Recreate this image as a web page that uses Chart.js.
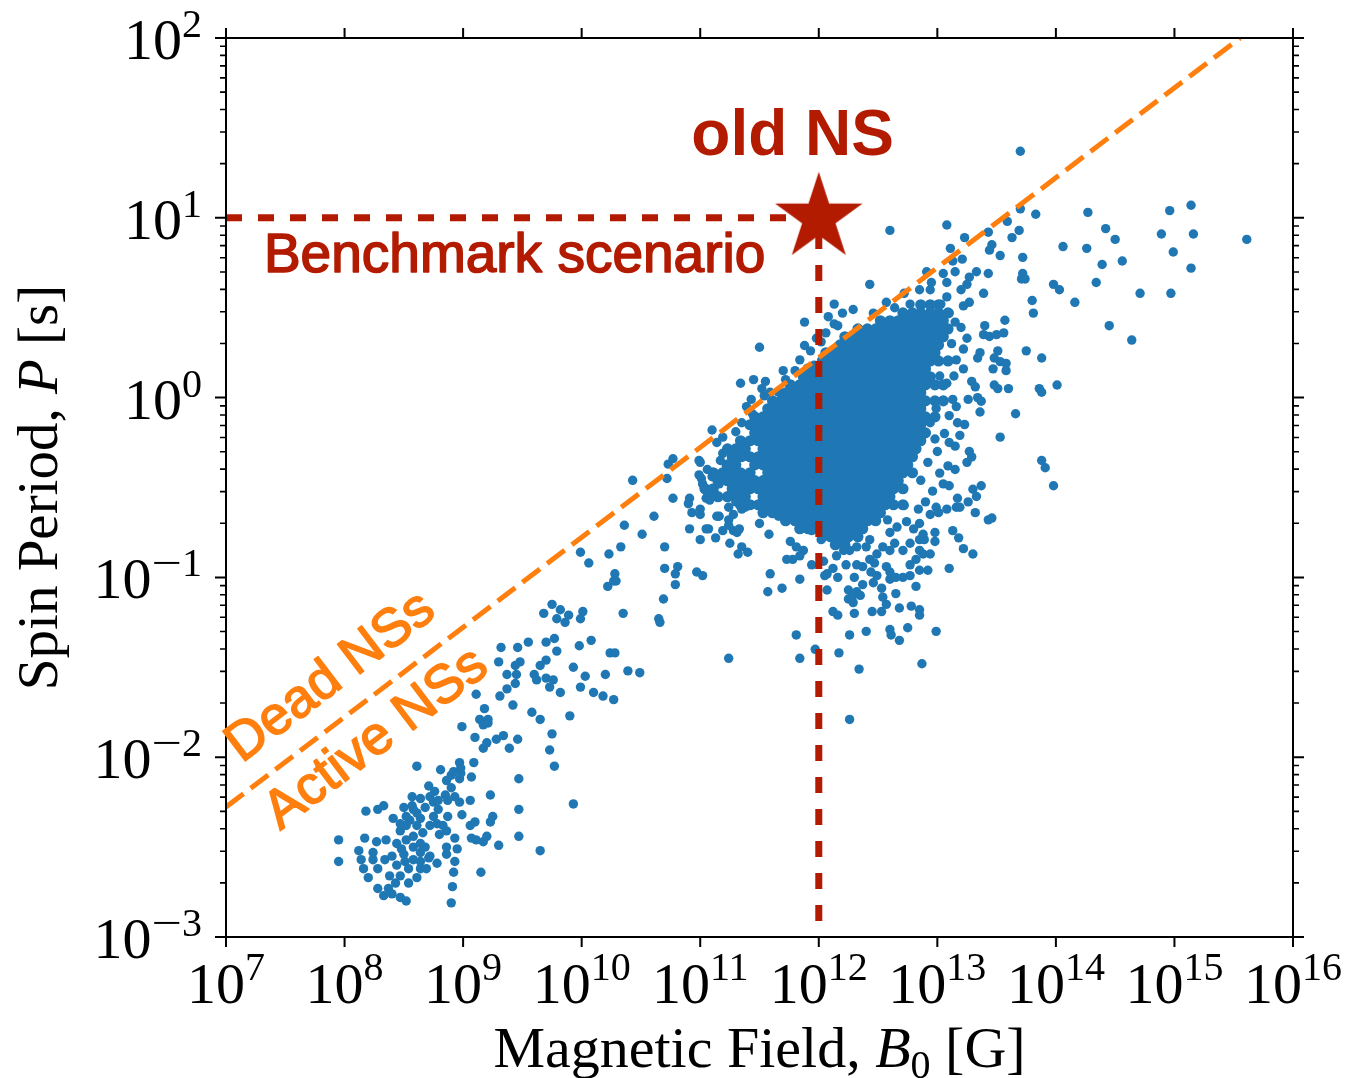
<!DOCTYPE html>
<html>
<head>
<meta charset="utf-8">
<title>Spin period vs magnetic field</title>
<script src="https://cdn.jsdelivr.net/npm/chart.js@4.4.1/dist/chart.umd.min.js"></script>
<style>
  html, body { margin: 0; padding: 0; background: #fff; }
  #wrap { width: 1346px; height: 1078px; }
</style>
</head>
<body>
<div id="wrap"><canvas id="chart" width="1346" height="1078"></canvas></div>
<script>
// all values are [log10 B0 in G, log10 P in s]

// recycled / millisecond pulsars, bottom left
const recycledPulsars = [
  [8.61,-2.05],[8.81,-2.07],[8.97,-2.03],[9.09,-2.03],[8.90,-2.10],[8.97,-2.12],[8.86,-2.13],[9.07,-2.11],[9.47,-2.12],
  [8.71,-2.16],[8.76,-2.19],[8.90,-2.17],[8.85,-2.21],[8.93,-2.22],[9.23,-2.21],[9.06,-2.24],[8.97,-2.25],[8.87,-2.24],
  [8.57,-2.22],[8.64,-2.23],[8.75,-2.25],[8.33,-2.27],[8.28,-2.29],[8.18,-2.30],[8.50,-2.28],[8.58,-2.29],[8.68,-2.28],
  [8.79,-2.29],[8.99,-2.32],[8.87,-2.33],[8.41,-2.34],[8.52,-2.33],[8.64,-2.34],[8.75,-2.33],[9.47,-2.29],[9.25,-2.33],
  [9.23,-2.36],[9.10,-2.36],[9.06,-2.38],[9.11,-2.46],[9.07,-2.45],[9.20,-2.44],[9.17,-2.47],[9.30,-2.49],[9.47,-2.44],
  [8.93,-2.45],[8.86,-2.41],[8.80,-2.43],[8.86,-2.50],[8.95,-2.51],[8.86,-2.54],[8.93,-2.58],[8.78,-2.59],[8.71,-2.56],
  [8.64,-2.53],[8.68,-2.50],[8.58,-2.44],[8.52,-2.38],[8.47,-2.41],[8.52,-2.46],[8.44,-2.48],[8.35,-2.46],[8.27,-2.47],
  [8.17,-2.45],[7.95,-2.46],[7.95,-2.58],[8.12,-2.52],[8.14,-2.57],[8.24,-2.53],[8.24,-2.57],[8.34,-2.57],[8.40,-2.55],
  [8.50,-2.54],[8.58,-2.57],[8.54,-2.62],[8.64,-2.62],[8.69,-2.62],[8.16,-2.62],[8.20,-2.67],[8.28,-2.62],[8.38,-2.66],
  [8.47,-2.66],[8.43,-2.70],[8.54,-2.70],[8.61,-2.67],[8.92,-2.64],[9.15,-2.64],[8.28,-2.73],[8.37,-2.73],[8.33,-2.77],
  [8.40,-2.76],[8.47,-2.78],[8.52,-2.80],[8.91,-2.72],[8.90,-2.81],
  [8.55,-2.35],[8.61,-2.38],[8.66,-2.42],[8.58,-2.50],[8.64,-2.48],[8.72,-2.38],[8.78,-2.37],[8.83,-2.38],[8.48,-2.51],
  [8.72,-2.55],[8.57,-2.27],[8.61,-2.31],[8.51,-2.58],[8.44,-2.60],[8.64,-2.58],[8.47,-2.37],[8.79,-2.24],[8.72,-2.22],
  [9.93,-2.26],[9.65,-2.52],
  [9.11,-1.65],[9.18,-1.73],[9.14,-1.79],[9.21,-1.79],[8.99,-1.83],[9.10,-1.89],
  [9.17,-1.95],[9.20,-1.92],[9.28,-1.90],[8.98,-2.09],[8.98,-2.06],[8.92,-2.08]
];

// pulsars between the two populations
const bridgePulsars = [
  [10.22,-1.05],[10.27,-1.02],[9.75,-1.15],[9.82,-1.18],[9.89,-1.21],[10.01,-1.19],[9.99,-1.23],[9.68,-1.20],[9.79,-1.23],
  [9.86,-1.25],[10.35,-1.20],[10.65,-1.23],[10.08,-1.35],[9.98,-1.38],[9.77,-1.34],[9.70,-1.36],[9.79,-1.41],[9.55,-1.36],
  [9.46,-1.39],[9.32,-1.39],[10.24,-1.42],[10.28,-1.42],[9.70,-1.46],[9.65,-1.49],[9.48,-1.47],[9.44,-1.49],[9.30,-1.47],
  [9.93,-1.50],[10.03,-1.55],[10.20,-1.54],[10.39,-1.52],[10.49,-1.53],[9.37,-1.54],[9.45,-1.54],[9.60,-1.54],[9.62,-1.57],
  [9.70,-1.56],[9.76,-1.57],[9.73,-1.61],[9.44,-1.59],[9.37,-1.62],[9.31,-1.66],[9.99,-1.61],[10.10,-1.64],[10.18,-1.66],
  [10.27,-1.68],[9.82,-1.64],[9.42,-1.71],[9.58,-1.75],[9.65,-1.79],[9.90,-1.77],[9.17,-1.82],[9.21,-1.81],
  [9.34,-1.88],[9.39,-1.95],[9.46,-1.90],[9.75,-1.87],[9.73,-1.96],[9.77,-2.05],
  [10.43,-0.46],[10.73,-0.37],[10.77,-0.34],[10.72,-0.45],[10.77,-0.56],[10.99,-0.35],[10.61,-0.66],[10.36,-0.71],
  [10.51,-0.76],[10.33,-0.83],[10.23,-0.87],[9.99,-0.86],[10.06,-0.92],[10.70,-0.83],[10.70,-0.95],[10.79,-0.98],
  [10.81,-0.94],[10.79,-1.04],[10.97,-0.97],[11.02,-0.99],[10.28,-0.98],[10.29,-1.02],[10.69,-1.12],[10.66,-1.25]
];

// dense part of the normal pulsars, one row per period: [log10 P, [log10 B0, ...]]
const normalCoreRows = [
  [0.516, [12.86,12.94,13.01]],
  [0.471, [12.71,12.79,12.86,12.94,13.01,13.09]],
  [0.427, [12.52,12.60,12.67,12.75,12.82,12.90,12.98,13.05]],
  [0.382, [12.33,12.41,12.48,12.56,12.63,12.71,12.79,12.86,12.94,13.01,13.09]],
  [0.338, [12.22,12.29,12.37,12.44,12.52,12.60,12.67,12.75,12.82,12.90,12.98,13.05]],
  [0.293, [12.18,12.25,12.33,12.41,12.48,12.56,12.63,12.71,12.79,12.86,12.94,13.01]],
  [0.249, [12.06,12.14,12.22,12.29,12.37,12.44,12.52,12.60,12.67,12.75,12.82,12.90,12.98]],
  [0.204, [12.03,12.10,12.18,12.25,12.33,12.41,12.48,12.56,12.63,12.71,12.79,12.86,12.94,13.01,13.09]],
  [0.160, [11.91,11.99,12.06,12.14,12.22,12.29,12.37,12.44,12.52,12.60,12.67,12.75,12.82,12.90]],
  [0.116, [11.87,11.95,12.03,12.10,12.18,12.25,12.33,12.41,12.48,12.56,12.63,12.71,12.79,12.86,12.94]],
  [0.071, [11.76,11.84,11.91,11.99,12.06,12.14,12.22,12.29,12.37,12.44,12.52,12.60,12.67,12.75,12.82,12.90,12.98,13.05]],
  [0.027, [11.72,11.80,11.87,11.95,12.03,12.10,12.18,12.25,12.33,12.41,12.48,12.56,12.63,12.71,12.79,12.86]],
  [-0.018, [11.61,11.68,11.76,11.84,11.91,11.99,12.06,12.14,12.22,12.29,12.37,12.44,12.52,12.60,12.67,12.75,12.82,12.90,12.98,13.05]],
  [-0.062, [11.57,11.65,11.72,11.80,11.87,11.95,12.03,12.10,12.18,12.25,12.33,12.41,12.48,12.56,12.63,12.71,12.79,12.86]],
  [-0.107, [11.46,11.53,11.61,11.68,11.76,11.84,11.91,11.99,12.06,12.14,12.22,12.29,12.37,12.44,12.52,12.60,12.67,12.75,12.82,12.90,12.98]],
  [-0.151, [11.42,11.49,11.57,11.65,11.72,11.80,11.87,11.95,12.03,12.10,12.18,12.25,12.33,12.41,12.48,12.56,12.63,12.71,12.79,12.86]],
  [-0.196, [11.46,11.53,11.61,11.68,11.76,11.84,11.91,11.99,12.06,12.14,12.22,12.29,12.37,12.44,12.52,12.60,12.67,12.75,12.82,12.90]],
  [-0.240, [11.34,11.42,11.49,11.57,11.65,11.72,11.80,11.87,11.95,12.03,12.10,12.18,12.25,12.33,12.41,12.48,12.56,12.63,12.71,12.79,12.86]],
  [-0.285, [11.23,11.30,11.38,11.53,11.61,11.68,11.76,11.84,11.91,11.99,12.06,12.14,12.22,12.29,12.37,12.44,12.52,12.60,12.67,12.75,12.82]],
  [-0.329, [11.27,11.34,11.42,11.49,11.57,11.65,11.72,11.80,11.87,11.95,12.03,12.10,12.18,12.25,12.33,12.41,12.48,12.56,12.63,12.71,12.79]],
  [-0.374, [11.23,11.30,11.46,11.53,11.61,11.68,11.76,11.84,11.91,11.99,12.06,12.14,12.22,12.29,12.37,12.44,12.52,12.60,12.67,12.75]],
  [-0.418, [11.11,11.19,11.27,11.34,11.42,11.57,11.65,11.72,11.80,11.87,11.95,12.03,12.10,12.18,12.25,12.33,12.41,12.48,12.56,12.63,12.71,12.79]],
  [-0.462, [11.15,11.23,11.30,11.38,11.46,11.53,11.61,11.68,11.76,11.84,11.91,11.99,12.06,12.14,12.22,12.29,12.37,12.44,12.52,12.60,12.67]],
  [-0.507, [11.04,11.11,11.27,11.34,11.42,11.49,11.57,11.65,11.72,11.80,11.87,11.95,12.03,12.10,12.18,12.25,12.33,12.41,12.48,12.56,12.63,12.71]],
  [-0.551, [11.15,11.23,11.30,11.38,11.53,11.61,11.68,11.76,11.84,11.91,11.99,12.06,12.14,12.22,12.29,12.37,12.44,12.52,12.60]],
  [-0.596, [11.34,11.42,11.49,11.57,11.65,11.72,11.80,11.87,11.95,12.03,12.10,12.18,12.25,12.33,12.41,12.48,12.56,12.63,12.71]],
  [-0.640, [11.53,11.61,11.68,11.76,11.84,11.91,11.99,12.06,12.14,12.22,12.29,12.37,12.44,12.52]],
  [-0.685, [11.72,11.80,11.87,11.95,12.03,12.10,12.18,12.25,12.33,12.41,12.48]],
  [-0.729, [11.84,11.91,11.99,12.06,12.14,12.22,12.29,12.37]],
  [-0.774, [12.03,12.10,12.18,12.25,12.33]],
  [-0.818, [12.14,12.22]]
];

// normal pulsars around the dense part
const normalHalo = [
  [10.91,-0.56],[10.90,-0.59],[10.93,-0.64],[11.00,-0.62],[11.05,-0.56],[11.01,-0.45],[11.02,-0.48],[10.99,-0.43],
  [10.91,-0.73],[11.00,-0.79],[11.07,-0.73],[11.13,-0.78],[11.19,-0.74],[11.16,-0.66],[11.24,-0.68],[11.28,-0.65],
  [11.35,-0.62],[11.25,-0.81],[11.32,-0.87],[11.35,-0.83],[11.40,-0.86],[11.28,-0.74],[11.31,-0.75],[11.24,-0.61],
  [11.38,-0.61],[11.40,-0.59],[11.14,-0.66],[11.08,-0.57],[11.11,-0.53],[11.10,-0.18],[11.14,-0.25],[11.19,-0.31],
  [11.17,-0.35],[11.22,-0.38],[11.25,-0.42],[11.39,-0.05],[11.00,-0.65],[11.05,-0.73],[11.24,-0.71],[11.33,-0.73],
  [11.04,-0.51],[11.06,-0.55],[11.13,-0.55],[11.30,-0.19],[11.35,-0.14],[11.44,-0.09],[11.54,0.01],[11.63,-0.03],
  [11.72,0.10],[11.80,0.15],[11.84,0.21],[11.93,0.26],[11.98,0.33],[12.06,0.36],[12.08,0.45],[12.20,0.47],[12.29,0.49],
  [12.13,0.52],[11.88,0.42],[12.13,0.41],[12.16,0.40],[11.88,0.29],[12.02,0.31],[11.50,0.28],[11.70,0.15],[12.04,0.21],
  [11.34,0.08],[11.45,0.10],[11.55,0.09],[11.52,0.05],[11.59,0.03],[11.66,0.03],[11.43,-0.01],[11.00,-0.36],[11.19,-0.22],
  [11.59,-0.98],[11.57,-1.08],[11.69,-1.06],[11.84,-1.01],[11.24,-1.45],[11.81,-1.32],[11.84,-1.45],[11.97,-1.40],
  [12.17,-1.42],[12.26,-1.32],[12.34,-1.51],[12.40,-1.30],[12.60,-1.29],[12.61,-1.32],[12.68,-1.35],[12.75,-1.28],
  [12.87,-1.48],[12.99,-1.30],[12.26,-1.79],[12.12,-1.19],[12.16,-1.21],[12.30,-1.20],[12.25,-1.12],[12.29,-1.14],
  [12.28,-1.11],[12.45,-1.19],[12.53,-1.19],[12.57,-1.15],[12.68,-1.17],[12.78,-1.16],[12.85,-1.18],[12.85,-1.21],
  [12.25,-1.07],[12.32,-1.08],[12.35,-1.10],[12.37,-1.04],[12.46,-1.03],[12.53,-1.06],[12.54,-1.11],[12.65,-1.09],
  [12.82,-1.05],[12.07,-1.07],[12.16,-1.00],[12.30,-1.00],[12.07,-0.98],[12.12,-0.95],[12.23,-0.93],[12.37,-0.94],
  [12.44,-0.97],[12.49,-0.99],[12.60,-1.01],[12.65,-1.00],[12.71,-1.00],[12.77,-0.99],[12.85,-0.96],[12.92,-0.96],
  [13.10,-0.95],[12.57,-0.94],[12.60,-0.97],[12.77,-0.93],[12.82,-0.90],[12.88,-0.87],[12.94,-0.87],[12.85,-0.85],
  [12.71,-0.85],[12.77,-0.81],[12.85,-0.79],[12.89,-0.79],[12.98,-0.80],[13.13,-0.74],[13.18,-0.78],[13.22,-0.84],
  [13.30,-0.87],[13.32,-0.64],[13.43,-0.68],[12.98,-0.75],[12.88,-0.76],[12.85,-0.70],[12.99,-0.61],[13.08,-0.62],
  [13.16,-0.61],[11.76,-0.80],[11.81,-0.83],[11.87,-0.85],[11.84,-0.88],[11.78,-0.90],[11.73,-0.90],
  [11.94,-0.93],[12.04,-0.91],[12.05,-0.99],[12.15,-0.88],[12.21,-0.85],[12.26,-0.85],[12.32,-0.83],[12.43,-0.79],
  [12.49,-0.87],[12.54,-0.83],[12.60,-0.85],[12.64,-0.81],[12.43,-0.90],[12.47,-0.92],[12.32,-0.93],
  [12.94,-0.65],[13.01,-0.64],[12.74,-0.69],[12.80,-0.73],[12.66,-0.72],[12.60,-0.75],
  [12.43,0.63],[12.57,0.53],[12.77,0.52],[12.85,0.60],[12.94,0.60],[12.95,0.64],[12.91,0.70],[13.05,0.69],[13.08,0.64],
  [13.15,0.70],[13.27,0.67],[13.33,0.70],[13.43,0.69],[13.39,0.58],[13.20,0.60],[13.25,0.63],[13.27,0.53],[13.22,0.51],
  [13.08,0.56],[13.03,0.52],[13.10,0.47],[13.40,0.40],[13.39,0.35],[13.44,0.34],[13.50,0.35],[13.56,0.36],[13.57,0.43],
  [13.25,0.33],[13.22,0.27],[13.36,0.25],[13.34,0.22],[13.51,0.26],[13.48,0.22],[13.53,0.20],[13.58,0.19],[13.47,0.16],
  [13.58,0.15],[13.16,0.21],[13.22,0.16],[13.29,0.09],[13.32,0.06],[13.48,0.07],[13.51,0.05],[13.26,-0.01],[13.34,0.00],
  [13.37,-0.02],[13.36,-0.08],[13.13,-0.01],[13.16,-0.05],[13.17,-0.14],[13.23,-0.15],[13.19,-0.21],[13.10,-0.25],
  [13.15,-0.27],[13.53,-0.22],[13.27,-0.30],[13.29,-0.33],[13.25,-0.36],[13.09,-0.38],[13.15,-0.40],[13.02,-0.42],
  [13.05,-0.48],[13.10,-0.49],[13.37,-0.49],[13.30,-0.51],[13.33,-0.55],[13.26,-0.58],[13.17,-0.56],[13.19,-0.61],
  [13.46,-0.67],[13.12,0.30],[13.20,0.39],[13.14,0.12],[13.08,0.08],[13.10,-0.10],[13.06,-0.20],[13.00,-0.30],
  [12.96,-0.52],[12.90,-0.58],[12.84,-0.62],[11.10,-0.44],[11.16,-0.48],[11.30,-0.58],[11.50,-0.70],[11.58,-0.76],
  [13.02,0.12],[12.99,-0.06],[12.94,-0.14],[12.98,-0.23],[12.92,-0.36],[12.86,-0.46],[13.15,0.42],[12.72,0.58],
  [12.46,0.47],[12.64,0.50],[11.96,0.18],[11.84,0.04],[11.68,-0.06],[11.36,-0.33],[11.06,-0.40],[11.34,-0.50],
  [12.02,-0.79],[12.40,-0.83],[11.66,-0.66],[11.94,-0.74],[12.58,-0.68],[12.72,-0.60]
];

// high-field pulsars and magnetars, right side
const highFieldPulsars = [
  [13.70,1.37],[13.08,0.96],[13.23,0.89],[13.43,0.92],[13.59,0.98],[13.70,1.05],[13.83,1.02],[13.69,0.93],[13.63,0.89],
  [13.46,0.85],[13.44,0.82],[13.53,0.79],[13.11,0.83],[13.13,0.76],[13.21,0.77],[13.72,0.78],[13.72,0.69],[13.71,0.66],
  [13.74,0.66],[13.80,0.54],[13.81,0.47],[14.06,0.84],[13.98,0.63],[14.03,0.60],[14.16,0.53],[14.26,0.83],[14.27,1.03],
  [14.34,0.64],[14.39,0.74],[14.42,0.94],[14.50,0.88],[14.56,0.76],[14.45,0.40],[14.64,0.32],[14.71,0.58],[14.89,0.91],
  [14.96,1.04],[14.99,0.81],[14.97,0.58],[15.14,1.07],[15.16,0.91],[15.14,0.72],[15.61,0.88],[13.75,0.26],[13.88,0.22],
  [14.01,0.07],[13.86,0.05],[13.88,0.03],[13.60,0.05],[13.66,-0.09],[13.88,-0.35],[13.91,-0.39],[13.98,-0.49],[12.60,0.93]
];

// death line, P proportional to sqrt(B0)
const deathLineLogB = [7, 15.554];
const deathLineLogP = [-2.277, 2.0];

// benchmark old neutron star
const benchmarkLogB = 12;
const benchmarkLogP = 1;

const xTickExps = [7, 8, 9, 10, 11, 12, 13, 14, 15, 16];
const yTickExps = [-3, -2, -1, 0, 1, 2];
const minorSteps = [2, 3, 4, 5, 6, 7, 8, 9];

const RED = '#b31b00';
const ORANGE = '#ff7f0e';
const BLUE = '#1f77b4';
const SERIF = '"Liberation Serif", "DejaVu Serif", serif';
const SANS = '"Liberation Sans", Arial, sans-serif';

const toPoint = ([b, p]) => ({ x: 10 ** b, y: 10 ** p });
const corePoints = normalCoreRows.flatMap(([p, row]) => row.map(b => [b, p])).map(toPoint);
const pulsars = [...recycledPulsars, ...bridgePulsars, ...normalHalo, ...highFieldPulsars].map(toPoint);
const deathLine = deathLineLogB.map((b, i) => toPoint([b, deathLineLogP[i]]));
const benchmark = toPoint([benchmarkLogB, benchmarkLogP]);

// filled five-pointed star used as the marker of the benchmark point
function makeStar(R) {
  const c = document.createElement('canvas');
  c.width = c.height = Math.ceil(2 * R + 4);
  const g = c.getContext('2d');
  const cx = c.width / 2, cy = c.height / 2, r = R * 0.382;
  g.beginPath();
  for (let i = 0; i < 10; i++) {
    const rad = i % 2 ? r : R;
    const a = -Math.PI / 2 + i * Math.PI / 5;
    g.lineTo(cx + rad * Math.cos(a), cy + rad * Math.sin(a));
  }
  g.closePath();
  g.fillStyle = RED;
  g.fill();
  return c;
}

// draws a run of text pieces with their own fonts and baseline shifts
function drawRich(ctx, parts, x, y, align) {
  let total = 0;
  parts.forEach(p => { ctx.font = p.font; p.w = ctx.measureText(p.text).width * (p.sx || 1); total += p.w; });
  let cx = align === 'center' ? x - total / 2 : align === 'right' ? x - total : x;
  ctx.textAlign = 'left';
  parts.forEach(p => {
    ctx.font = p.font;
    ctx.save();
    ctx.translate(cx, y + (p.dy || 0));
    ctx.scale(p.sx || 1, 1);
    ctx.fillText(p.text, 0, 0);
    ctx.restore();
    cx += p.w;
  });
}

function powerParts(exp, dy) {
  const parts = [{ text: '10', font: '58px ' + SERIF }];
  if (exp < 0) parts.push({ text: '\u2212', font: '40px ' + SERIF, dy: dy, sx: 1.35 });
  parts.push({ text: String(Math.abs(exp)), font: '40px ' + SERIF, dy: dy });
  return parts;
}

// sans labels in a slightly heavier weight than regular
function heavyText(ctx, text, x, y, weight) {
  ctx.fillText(text, x, y);
  ctx.lineWidth = weight;
  ctx.strokeStyle = ctx.fillStyle;
  ctx.lineJoin = 'round';
  ctx.strokeText(text, x, y);
}

const axesPlugin = {
  id: 'axesFrame',
  afterDraw(chart) {
    const { ctx, chartArea: a, scales: { x, y } } = chart;
    ctx.save();
    ctx.strokeStyle = '#000';
    ctx.fillStyle = '#000';
    ctx.lineWidth = 2;
    ctx.strokeRect(a.left, a.top, a.right - a.left, a.bottom - a.top);

    // major ticks, pointing outwards
    ctx.beginPath();
    xTickExps.forEach(e => {
      const px = x.getPixelForValue(10 ** e);
      ctx.moveTo(px, a.bottom); ctx.lineTo(px, a.bottom + 10);
      ctx.moveTo(px, a.top); ctx.lineTo(px, a.top - 10);
    });
    yTickExps.forEach(e => {
      const py = y.getPixelForValue(10 ** e);
      ctx.moveTo(a.left - 11, py); ctx.lineTo(a.left, py);
      ctx.moveTo(a.right, py); ctx.lineTo(a.right + 11, py);
    });
    ctx.stroke();

    // minor ticks on the period axis
    ctx.lineWidth = 1.6;
    ctx.beginPath();
    yTickExps.slice(0, -1).forEach(e => {
      minorSteps.forEach(m => {
        const py = y.getPixelForValue(m * 10 ** e);
        ctx.moveTo(a.left - 6, py); ctx.lineTo(a.left, py);
        ctx.moveTo(a.right, py); ctx.lineTo(a.right + 6, py);
      });
    });
    ctx.stroke();

    // tick labels
    ctx.textBaseline = 'alphabetic';
    xTickExps.forEach(e => {
      const px = x.getPixelForValue(10 ** e);
      drawRich(ctx, powerParts(e, -23), px, a.bottom + 66, 'center');
    });
    yTickExps.forEach(e => {
      const py = y.getPixelForValue(10 ** e);
      drawRich(ctx, powerParts(e, -22), a.left - 24, py + 21, 'right');
    });

    // axis titles
    drawRich(ctx, [
      { text: 'Magnetic Field, ', font: '58px ' + SERIF },
      { text: 'B', font: 'italic 58px ' + SERIF },
      { text: '0', font: '40px ' + SERIF, dy: 11 },
      { text: ' [G]', font: '58px ' + SERIF }
    ], (a.left + a.right) / 2, 1067, 'center');

    ctx.save();
    ctx.translate(57, (a.top + a.bottom) / 2);
    ctx.rotate(-Math.PI / 2);
    drawRich(ctx, [
      { text: 'Spin Period, ', font: '57px ' + SERIF },
      { text: 'P', font: 'italic 57px ' + SERIF },
      { text: ' [s]', font: '57px ' + SERIF }
    ], 0, 0, 'center');
    ctx.restore();

    // annotations
    ctx.fillStyle = RED;
    ctx.textAlign = 'center';
    ctx.font = 'bold 64px ' + SANS;
    ctx.fillText('old NS', x.getPixelForValue(10 ** 11.78), y.getPixelForValue(10 ** 1.35));
    ctx.textAlign = 'left';
    ctx.font = '55px ' + SANS;
    heavyText(ctx, 'Benchmark scenario', x.getPixelForValue(10 ** 7.32), y.getPixelForValue(10 ** 0.699), 1.6);

    const x0 = x.getPixelForValue(deathLine[0].x), y0 = y.getPixelForValue(deathLine[0].y);
    const x1 = x.getPixelForValue(deathLine[1].x), y1 = y.getPixelForValue(deathLine[1].y);
    const angle = Math.atan2(y1 - y0, x1 - x0);
    ctx.fillStyle = ORANGE;
    ctx.font = '54px ' + SANS;
    ctx.textAlign = 'center';
    [['Dead NSs', 7.96, -1.622], ['Active NSs', 8.345, -1.965]].forEach(([t, b, p]) => {
      ctx.save();
      ctx.translate(x.getPixelForValue(10 ** b), y.getPixelForValue(10 ** p));
      ctx.rotate(angle);
      heavyText(ctx, t, 0, 0, 1.6);
      ctx.restore();
    });
    ctx.restore();
  }
};

new Chart(document.getElementById('chart'), {
  type: 'scatter',
  data: {
    datasets: [
      {
        type: 'scatter',
        label: 'old NS',
        data: [benchmark],
        pointStyle: makeStar(46),
        pointRadius: 10,
        order: 0
      },
      {
        type: 'line',
        label: 'Benchmark scenario',
        data: [{ x: 10 ** xTickExps[0], y: benchmark.y }, benchmark, { x: benchmark.x, y: 10 ** yTickExps[0] }],
        borderColor: RED,
        borderWidth: 7,
        borderDash: [16, 16],
        borderCapStyle: 'butt',
        pointRadius: 0,
        fill: false,
        order: 1
      },
      {
        type: 'line',
        label: 'death line',
        data: deathLine,
        borderColor: ORANGE,
        borderWidth: 5,
        borderDash: [22, 9],
        pointRadius: 0,
        fill: false,
        order: 2
      },
      {
        type: 'scatter',
        label: 'pulsars',
        data: pulsars,
        backgroundColor: BLUE,
        borderWidth: 0,
        pointRadius: 4.7,
        order: 3
      },
      {
        type: 'scatter',
        label: 'pulsars (dense)',
        data: corePoints,
        backgroundColor: BLUE,
        borderWidth: 0,
        pointRadius: 5.6,
        order: 4
      }
    ]
  },
  options: {
    responsive: false,
    devicePixelRatio: 1,
    animation: false,
    events: [],
    layout: { padding: { left: 226, top: 38, right: 53, bottom: 141 } },
    plugins: { legend: { display: false }, tooltip: { enabled: false } },
    scales: {
      x: { type: 'logarithmic', min: 1e7, max: 1e16, display: false },
      y: { type: 'logarithmic', min: 1e-3, max: 1e2, display: false }
    }
  },
  plugins: [axesPlugin]
});
</script>
</body>
</html>
